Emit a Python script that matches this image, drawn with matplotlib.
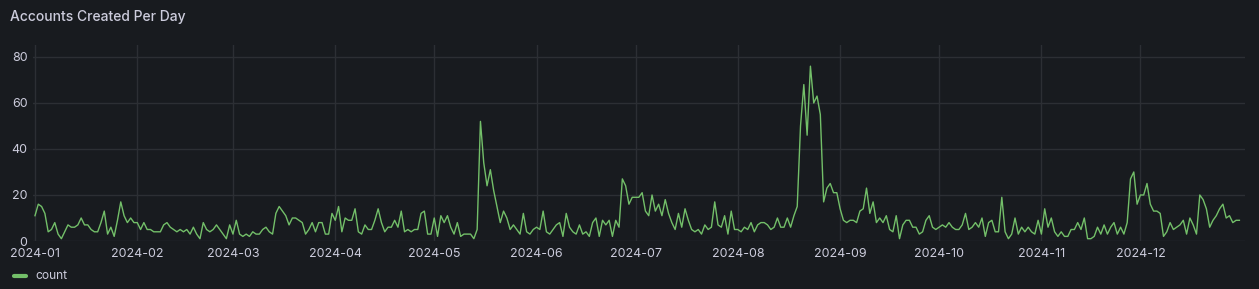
import pandas as pd
import matplotlib
matplotlib.use("Agg")
import matplotlib.pyplot as plt
import matplotlib.dates as mdates

# daily counts
jan = [11, 16, 15, 12, 4, 5, 8, 3, 1, 4, 7, 6, 6, 7, 10, 7, 7, 5, 4, 4, 8, 13, 3, 6, 2, 9, 17, 11, 8, 10, 8]
feb = [8, 5, 8, 5, 5, 4, 4, 4, 7, 8, 6, 5, 4, 5, 4, 5, 3, 6, 3, 1, 8, 5, 4, 5, 7, 5, 3, 1, 7]
mar = [3, 9, 3, 2, 3, 2, 4, 3, 3, 5, 6, 4, 3, 12, 15, 13, 11, 7, 10, 10, 9, 8, 3, 5, 8, 4, 8, 8, 3, 3, 12]
apr = [9, 15, 4, 10, 9, 9, 14, 4, 3, 7, 5, 5, 9, 14, 8, 4, 6, 6, 9, 6, 13, 4, 5, 4, 5, 5, 12, 13, 3, 3]
may = [10, 2, 11, 8, 11, 6, 3, 8, 2, 3, 3, 3, 1, 5, 52, 34, 24, 31, 22, 15, 8, 13, 10, 5, 7, 5, 3, 12, 4, 3, 5]
jun = [6, 5, 13, 4, 3, 5, 7, 8, 2, 12, 6, 4, 3, 7, 3, 4, 2, 8, 10, 2, 9, 7, 9, 2, 9, 6, 27, 24, 16, 19]
jul = [19, 19, 21, 13, 11, 20, 13, 16, 11, 18, 12, 8, 5, 12, 6, 14, 9, 5, 4, 5, 3, 7, 5, 6, 17, 7, 6, 11, 3, 13, 5]
aug = [5, 4, 6, 5, 8, 4, 7, 8, 8, 7, 5, 6, 10, 6, 6, 10, 6, 11, 15, 50, 68, 46, 76, 60, 63, 55, 17, 23, 25, 21, 21]
sep = [14, 9, 8, 9, 9, 8, 13, 14, 23, 12, 17, 8, 10, 8, 11, 5, 4, 11, 1, 7, 9, 9, 6, 6, 3, 4, 9, 11, 6, 5]
oct_ = [6, 7, 6, 8, 6, 5, 5, 7, 12, 5, 6, 8, 6, 10, 2, 8, 9, 4, 4, 19, 4, 1, 3, 10, 3, 6, 4, 6, 4, 3, 9]
nov = [3, 14, 6, 10, 4, 2, 4, 2, 2, 5, 5, 8, 5, 10, 1, 1, 2, 6, 3, 7, 3, 6, 8, 3, 6, 3, 8, 27, 30, 16]
dec = [20, 20, 25, 16, 13, 13, 12, 2, 4, 8, 5, 6, 7, 9, 3, 10, 7, 3, 20, 18, 14, 6, 9, 11, 14, 16, 10, 11, 8, 9, 9]

count = jan + feb + mar + apr + may + jun + jul + aug + sep + oct_ + nov + dec
days = pd.date_range("2024-01-01", periods=len(count), freq="D")
month_ticks = pd.date_range("2024-01-01", "2024-12-01", freq="MS")
y_ticks = [0, 20, 40, 60, 80]

bg = "#181b1f"
grid = "#2c2f34"
text = "#ccccdc"
green = "#73bf69"

plt.rcParams["font.family"] = ["Inter", "DejaVu Sans"]

fig = plt.figure(figsize=(12.59, 2.89), dpi=100)
fig.patch.set_facecolor(bg)
W, H = 1259, 289
ax = fig.add_axes([33 / W, 1 - 241 / H, (1245 - 33) / W, (241 - 45) / H])
ax.set_facecolor(bg)

ax.plot(days, count, color=green, linewidth=1)

x0 = pd.Timestamp("2024-01-01") - pd.Timedelta(days=0.6)
x1 = pd.Timestamp("2024-01-01") + pd.Timedelta(days=366.7)
ax.set_xlim(x0, x1)
ax.set_ylim(0, 85.2)

ax.set_xticks(month_ticks)
ax.xaxis.set_major_formatter(mdates.DateFormatter("%Y-%m"))
ax.set_yticks(y_ticks)
ax.grid(True, color=grid, linewidth=1)
ax.set_axisbelow(True)
for s in ax.spines.values():
    s.set_visible(False)
ax.tick_params(colors=text, labelsize=9, length=0, pad=5)
ax.tick_params(axis="y", pad=4)

fig.text(10 / W, 1 - 17 / H, "Accounts Created Per Day", color=text,
         fontsize=10, fontweight=500, va="center", ha="left")

# legend
fig.add_artist(plt.Line2D([14 / W, 26 / W], [1 - 276 / H, 1 - 276 / H],
                          color=green, linewidth=3, solid_capstyle="round"))
fig.text(35 / W, 1 - 276 / H, "count", color=text, fontsize=8.7,
         va="center", ha="left")

fig.savefig("out.png", dpi=100, facecolor=bg)
